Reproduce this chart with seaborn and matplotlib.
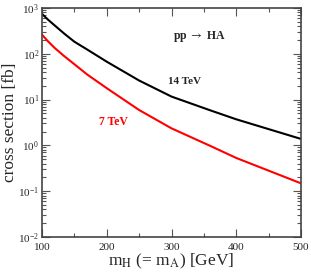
import numpy as np
import pandas as pd
import matplotlib
matplotlib.use("Agg")
import matplotlib.pyplot as plt
import matplotlib.ticker as mticker
import seaborn as sns

# masses in GeV, cross sections in fb
mass = [100, 110, 120, 135, 150, 170, 200, 250, 300, 360, 400, 500]
xsec_14 = [740, 543, 410, 270, 183, 123, 67, 26, 11.6, 5.8, 3.7, 1.38]
xsec_7 = [260, 182, 132, 87, 59, 35, 17.7, 5.9, 2.35, 0.97, 0.53, 0.148]
energies = ["14 TeV", "7 TeV"]
colors = ["black", "#ff0000"]

df = pd.DataFrame({
    "mass": mass * 2,
    "xsec": xsec_14 + xsec_7,
    "energy": [energies[0]] * len(mass) + [energies[1]] * len(mass),
})

sns.set_style("ticks")
plt.rcParams["font.family"] = ["Liberation Serif", "DejaVu Serif"]
plt.rcParams["mathtext.fontset"] = "stix"

fig = plt.figure(figsize=(3.11, 2.73), dpi=100)
ax = fig.add_axes([0.135, 0.132, 0.833, 0.839])

sns.lineplot(data=df, x="mass", y="xsec", hue="energy",
             palette=dict(zip(energies, colors)), linewidth=1.5,
             legend=False, ax=ax)

ax.set_yscale("log")
ax.set_xlim(100, 500)
ax.set_ylim(1e-2, 1e3)
ax.xaxis.set_major_locator(mticker.MultipleLocator(100))
ax.xaxis.set_minor_locator(mticker.MultipleLocator(50))
ax.yaxis.set_major_locator(mticker.LogLocator(base=10, numticks=10))
ax.yaxis.set_minor_locator(mticker.LogLocator(base=10, subs=np.arange(2, 10), numticks=10))
ax.yaxis.set_minor_formatter(mticker.NullFormatter())

ax.tick_params(which="both", direction="in", top=True, right=True,
               labelsize=8, width=0.8, color="#555555", pad=2)
ax.tick_params(axis="x", which="both", pad=4)
ax.tick_params(which="major", length=6)
ax.tick_params(which="minor", length=3)
for s in ax.spines.values():
    s.set_linewidth(1.2)
    s.set_color("#444444")

ax.set_xlabel(r"m$_\mathrm{H}$ (= m$_\mathrm{A}$) [GeV]", fontsize=12.5, labelpad=0)
ax.set_ylabel("cross section [fb]", fontsize=12.5, labelpad=0)

ax.text(343, 240, r"pp $\rightarrow$ HA", fontsize=8.5, fontweight="bold",
        ha="center", va="center")
ax.text(320, 25, "14 TeV", fontsize=8, fontweight="bold",
        ha="center", va="center")
ax.text(210, 3.2, "7 TeV", fontsize=8.5, fontweight="bold", color="#ff0000",
        ha="center", va="center")

fig.savefig("out.png", dpi=100)
